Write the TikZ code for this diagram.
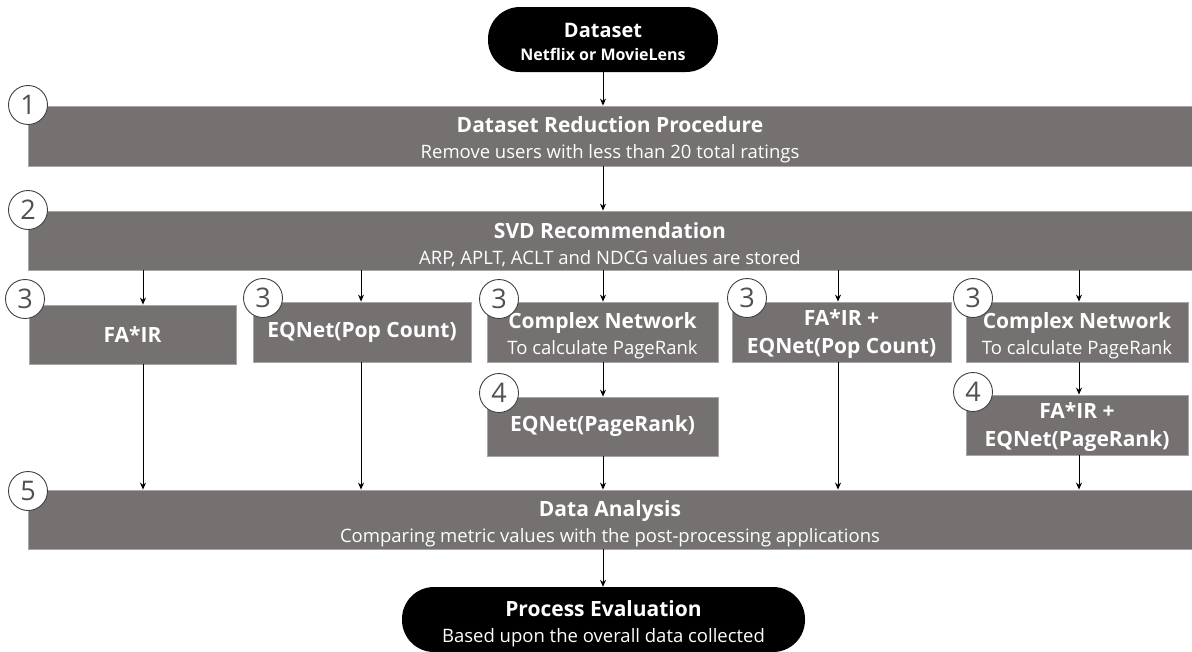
\documentclass[tikz,border=0pt]{standalone}
\usepackage{fontspec}
\setmainfont{Open Sans}
\usetikzlibrary{arrows.meta}
\definecolor{boxgray}{RGB}{117,113,113}
\definecolor{numgray}{RGB}{80,80,80}
\newcommand\bxtitle[1]{{\fontsize{21}{26}\selectfont\bfseries #1}}
\newcommand\bxfirst[1]{\rule{0pt}{24pt}\bxtitle{#1}}
\begin{document}
\begin{tikzpicture}[x=1pt,y=-1pt,
  box/.style={draw=black!35, line width=0.8pt, fill=boxgray, text=white, inner sep=0pt,
    align=center, font=\fontsize{18.5}{26}\selectfont},
  term/.style={fill=black, rounded corners=32pt, text=white, inner sep=0pt, align=center},
  num/.style={circle, draw=black!75, fill=white, line width=0.9pt, minimum size=39pt,
    inner sep=0pt, font=\fontsize{27}{27}\selectfont, text=numgray},
  arr/.style={-{Stealth[length=7pt,width=6pt]}, line width=0.9pt, black}]
\useasboundingbox (0,0) rectangle (1192,651);
\fill[white] (0,0) rectangle (1192,651);

% arrow x positions
\coordinate (a1) at (143,0);
\coordinate (a2) at (361,0);
\coordinate (a3) at (603,0);
\coordinate (a4) at (838,0);
\coordinate (a5) at (1079,0);

% terminators
\node[term, minimum width=230pt, minimum height=65pt, font=\fontsize{16}{23}\selectfont\bfseries]
  (ds) at (603,39.5) {\rule{0pt}{19pt}{\fontsize{20}{23}\selectfont Dataset}\\Netflix or MovieLens};
\node[term, minimum width=403pt, minimum height=65pt, font=\fontsize{18.5}{26}\selectfont]
  (pe) at (603.5,619.5) {\bxfirst{Process Evaluation}\\Based upon the overall data collected};

% boxes
\node[box, minimum width=1164pt, minimum height=60pt] (red) at (610,136)
  {\bxfirst{Dataset Reduction Procedure}\\Remove users with less than 20 total ratings};
\node[box, minimum width=1164pt, minimum height=59pt] (svd) at (610,240.5)
  {\bxfirst{SVD Recommendation}\\ARP, APLT, ACLT and NDCG values are stored};
\node[box, minimum width=207pt, minimum height=59pt] (fair) at (132.5,334.5)
  {\bxtitle{FA*IR}};
\node[box, minimum width=218pt, minimum height=60pt] (eqpop) at (362,332)
  {\bxtitle{EQNet(Pop Count)}};
\node[box, minimum width=231pt, minimum height=60pt] (cn1) at (602.5,332)
  {\bxfirst{Complex Network}\\To calculate PageRank};
\node[box, minimum width=219pt, minimum height=60pt, font=\fontsize{21}{28}\selectfont] (fe) at (841.5,332)
  {\rule{0pt}{20pt}\bxtitle{FA*IR +}\\\bxtitle{EQNet(Pop Count)}};
\node[box, minimum width=222pt, minimum height=60pt] (cn2) at (1077,332)
  {\bxfirst{Complex Network}\\To calculate PageRank};
\node[box, minimum width=231pt, minimum height=59pt] (eqpr) at (602.5,426.5)
  {\bxtitle{EQNet(PageRank)}};
\node[box, minimum width=222pt, minimum height=60pt, font=\fontsize{21}{28}\selectfont] (fepr) at (1077,425)
  {\rule{0pt}{20pt}\bxtitle{FA*IR +}\\\bxtitle{EQNet(PageRank)}};
\node[box, minimum width=1164pt, minimum height=59pt] (da) at (610,519.5)
  {\bxfirst{Data Analysis}\\Comparing metric values with the post-processing applications};

% step numbers
\node[num] (n1) at (28,105) {1};
\node[num] (n2) at (28,210) {2};
\node[num] (n3a) at (25,299) {3};
\node[num] (n3b) at (263,298) {3};
\node[num] (n3c) at (499,299) {3};
\node[num] (n3d) at (747,298) {3};
\node[num] (n3e) at (973,298) {3};
\node[num] (n4a) at (499,393) {4};
\node[num] (n4b) at (973,392) {4};
\node[num] (n5) at (28,491) {5};

% connectors
\draw[arr] (ds.south -| a3) -- (red.north -| a3);
\draw[arr] (red.south -| a3) -- (svd.north -| a3);
\draw[arr] (svd.south -| a1) -- (fair.north -| a1);
\draw[arr] (svd.south -| a2) -- (eqpop.north -| a2);
\draw[arr] (svd.south -| a3) -- (cn1.north -| a3);
\draw[arr] (svd.south -| a4) -- (fe.north -| a4);
\draw[arr] (svd.south -| a5) -- (cn2.north -| a5);
\draw[arr] (cn1.south -| a3) -- (eqpr.north -| a3);
\draw[arr] (cn2.south -| a5) -- (fepr.north -| a5);
\draw[arr] (fair.south -| a1) -- (da.north -| a1);
\draw[arr] (eqpop.south -| a2) -- (da.north -| a2);
\draw[arr] (eqpr.south -| a3) -- (da.north -| a3);
\draw[arr] (fe.south -| a4) -- (da.north -| a4);
\draw[arr] (fepr.south -| a5) -- (da.north -| a5);
\draw[arr] (da.south -| a3) -- (pe.north -| a3);
\end{tikzpicture}
\end{document}
